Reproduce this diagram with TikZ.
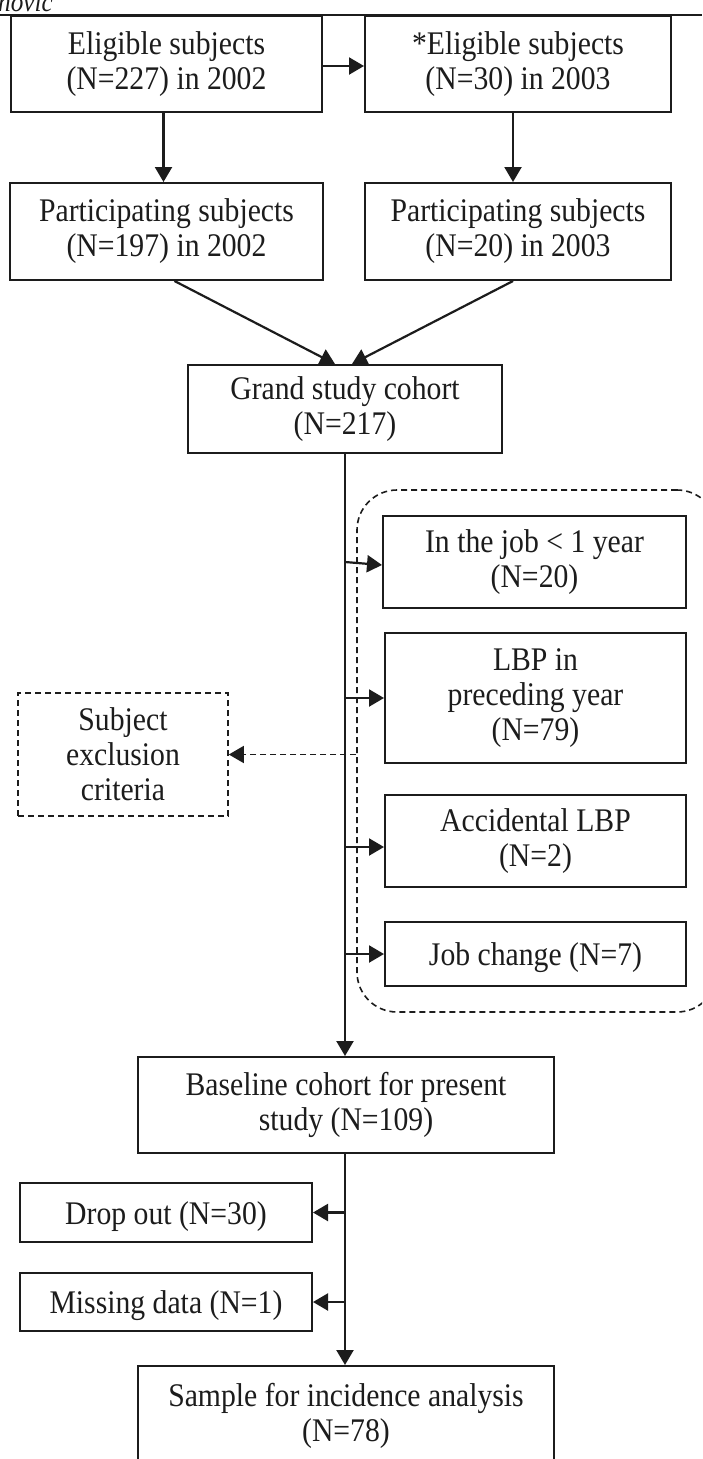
\documentclass[tikz,border=0pt]{standalone}
\usepackage{fontspec}
\setmainfont[FakeStretch=0.9]{Liberation Serif}
\usetikzlibrary{arrows.meta}
\definecolor{ink}{RGB}{28,28,28}
\tikzset{
  box/.style={draw=ink, line width=2pt, align=center, inner sep=0pt, text=ink,
              font=\fontsize{33}{35}\selectfont,
              execute at begin node={\rule{0pt}{30pt}}},
  dbox/.style={box, dash pattern=on 6pt off 4pt, line width=1.6pt},
  arr/.style={draw=ink, line width=2.2pt, -{Triangle[length=15pt,width=17pt]}},
  darr/.style={draw=ink, line width=1.6pt, dash pattern=on 6pt off 4pt,
               -{Triangle[length=15pt,width=17pt]}},
}
\begin{document}
\begin{tikzpicture}[x=1pt,y=-1pt]
\clip (0,0) rectangle (702,1459);
\fill[white] (0,0) rectangle (702,1459);
% header fragment
\node[anchor=base west, inner sep=0pt, text=ink, font=\fontsize{28}{30}\selectfont\itshape] (hdr) at (-2,11) {novic};
\coordinate (hl) at (0,15);
\coordinate (hr) at (702,15);
\draw[ink, line width=1.8pt] (hl) -- (hr);
% boxes
\node[box, minimum width=311pt, minimum height=96pt] (A) at (166.5,64) {Eligible subjects\\(N=227) in 2002};
\node[box, minimum width=306pt, minimum height=96pt] (B) at (518,64) {*Eligible subjects\\(N=30) in 2003};
\node[box, minimum width=313pt, minimum height=97pt] (C) at (166.5,231.5) {Participating subjects\\(N=197) in 2002};
\node[box, minimum width=306pt, minimum height=97pt] (D) at (518,231.5) {Participating subjects\\(N=20) in 2003};
\node[box, minimum width=314pt, minimum height=88pt] (G) at (345,409) {Grand study cohort\\(N=217)};
% exclusion group
\node[draw=ink, line width=1.6pt, dash pattern=on 6pt off 4pt, rounded corners=40pt,
      minimum width=360pt, minimum height=522pt, inner sep=0pt] (grp) at (537,751) {};
\node[box, minimum width=303pt, minimum height=92pt] (E1) at (534.5,562) {In the job < 1 year\\(N=20)};
\node[box, minimum width=301pt, minimum height=130pt] (E2) at (535.5,698) {LBP in\\preceding year\\(N=79)};
\node[box, minimum width=301pt, minimum height=92pt] (E3) at (535.5,841) {Accidental LBP\\(N=2)};
\node[box, minimum width=301pt, minimum height=64pt] (E4) at (535.5,954) {Job change (N=7)};
\node[dbox, minimum width=210pt, minimum height=123pt] (S) at (123,754.5) {Subject\\exclusion\\criteria};
% lower part
\node[box, minimum width=416pt, minimum height=96pt] (BL) at (346,1105) {Baseline cohort for present\\study (N=109)};
\node[box, minimum width=292pt, minimum height=59pt] (DO) at (166,1212.5) {Drop out (N=30)};
\node[box, minimum width=292pt, minimum height=58pt] (MD) at (166,1302) {Missing data (N=1)};
\node[box, minimum width=416pt, minimum height=100pt] (SA) at (346,1416) {Sample for incidence analysis\\(N=78)};
% connectors
\draw[arr] ([yshift=-2pt]A.east) -- ([yshift=-2pt]B.west);
\draw[arr] ([xshift=-3pt]A.south) -- ([xshift=-3pt]C.north);
\draw[arr] ([xshift=-5pt]B.south) -- ([xshift=-5pt]D.north);
\draw[arr] ([xshift=8pt]C.south) -- ([xshift=-10pt]G.north);
\draw[arr] ([xshift=-5pt]D.south) -- ([xshift=7pt]G.north);
\draw[arr] (G.south) -- (G.south |- BL.north);
\draw[arr] (G.south |- E1.west) -- ([yshift=-3pt]E1.west);
\draw[arr] (G.south |- E2.west) -- (E2.west);
\draw[arr] ([yshift=-6pt]G.south |- E3.west) -- ([yshift=-6pt]E3.west);
\draw[arr] (G.south |- E4.west) -- (E4.west);
\draw[darr] (grp.west |- S.east) -- (S.east);
\draw[arr] (BL.south -| G.south) -- (SA.north -| G.south);
\draw[arr] (G.south |- DO.east) -- (DO.east);
\draw[arr] (G.south |- MD.east) -- (MD.east);
\end{tikzpicture}
\end{document}
